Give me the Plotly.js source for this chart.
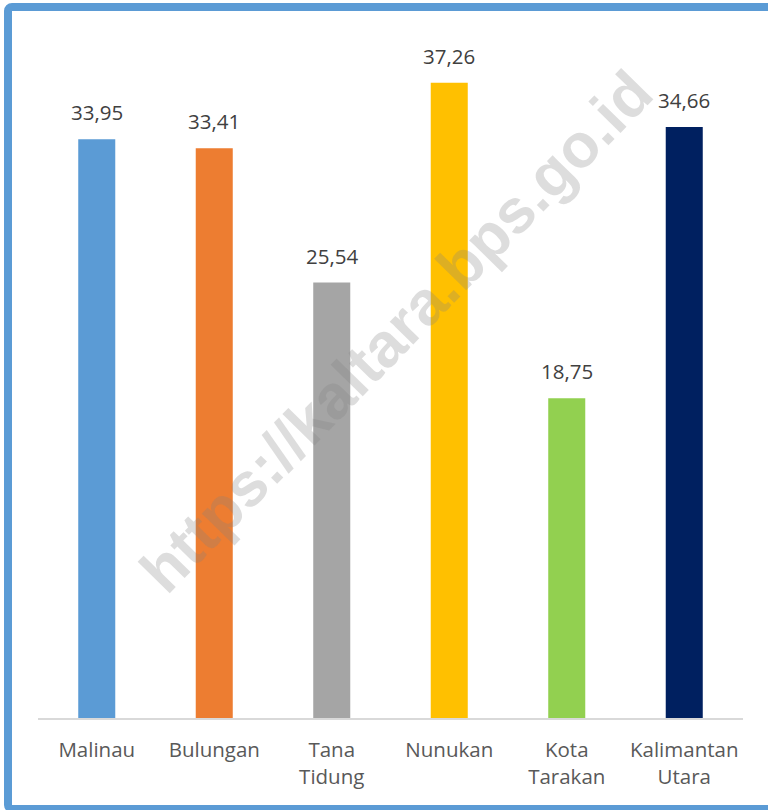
<!DOCTYPE html>
<html>
<head>
<meta charset="utf-8">
<script src="https://cdn.plot.ly/plotly-3.0.1.min.js"></script>
<style>
html,body{margin:0;padding:0;width:768px;height:810px;overflow:hidden;background:#fff;}
#chart{position:absolute;left:0;top:0;width:768px;height:810px;}
#frame{position:absolute;left:4px;top:3px;width:820px;height:794px;border:8px solid #5B9BD5;border-radius:8px;pointer-events:none;}
</style>
</head>
<body>
<div id="chart"></div>
<div id="frame"></div>
<script>
const categories = ["Malinau", "Bulungan", "Tana<br>Tidung", "Nunukan", "Kota<br>Tarakan", "Kalimantan<br>Utara"];
const values = [33.95, 33.41, 25.54, 37.26, 18.75, 34.66];
const barColors = ["#5B9BD5", "#ED7D31", "#A5A5A5", "#FFC000", "#92D050", "#002060"];
const watermark = "https://kaltara.bps.go.id";

const fmt = v => v.toFixed(2).replace('.', ',');

const trace = {
  type: 'bar',
  x: categories,
  y: values,
  marker: {color: barColors},
  hoverinfo: 'none'
};

const valueLabels = categories.map((c, i) => ({
  x: c, y: values[i], xref: 'x', yref: 'y',
  text: fmt(values[i]), showarrow: false,
  yanchor: 'bottom', yshift: 11,
  font: {family: 'Open Sans', size: 20.5, color: '#404040'}
}));

const layout = {
  width: 768, height: 810,
  margin: {l: 38, r: 25, t: 36, b: 92},
  paper_bgcolor: 'rgba(0,0,0,0)',
  plot_bgcolor: 'rgba(0,0,0,0)',
  bargap: 0.685,
  showlegend: false,
  xaxis: {
    type: 'category',
    showline: true, linecolor: '#D9D9D9', linewidth: 1.5,
    showgrid: false, zeroline: false, ticks: '',
    ticklabelstandoff: 13,
    tickfont: {family: 'Open Sans', size: 20.5, color: '#595959'}
  },
  yaxis: {
    range: [0, 40], visible: false, showgrid: false, zeroline: false
  },
  annotations: valueLabels.concat([{
    xref: 'paper', yref: 'paper', x: 0.508, y: 0.566,
    text: '<b>' + watermark + '</b>', showarrow: false,
    textangle: -45.6,
    font: {family: 'Liberation Sans', size: 62, color: 'rgba(128,128,128,0.27)'}
  }])
};

Plotly.newPlot('chart', [trace], layout, {staticPlot: true});
</script>
</body>
</html>
